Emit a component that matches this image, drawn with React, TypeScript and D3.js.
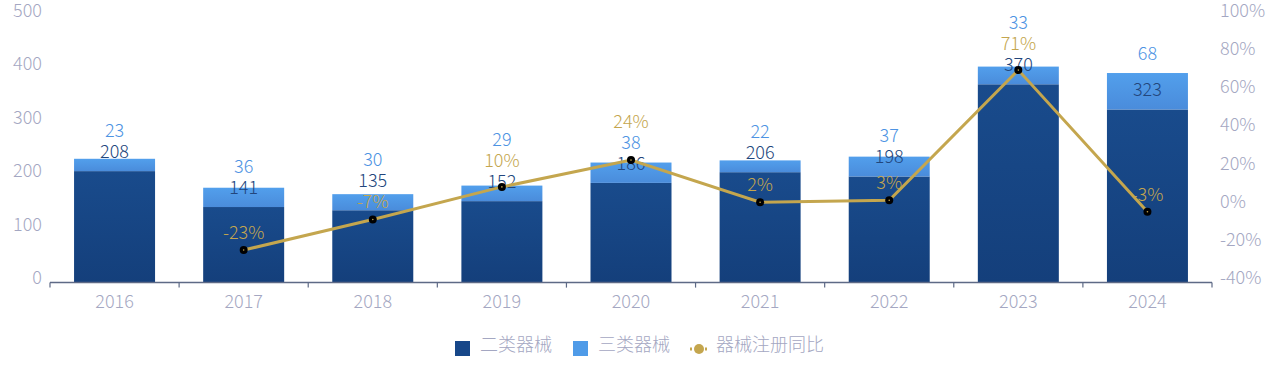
import React from "react";
import * as d3 from "d3";

const years = ["2016", "2017", "2018", "2019", "2020", "2021", "2022", "2023", "2024"];
const classII = [208, 141, 135, 152, 186, 206, 198, 370, 323];
const classIII = [23, 36, 30, 29, 38, 22, 37, 33, 68];
const yoy: (number | null)[] = [null, -23, -7, 10, 24, 2, 3, 71, -3];
const leftTicks = [0, 100, 200, 300, 400, 500];
const rightTicks = [-40, -20, 0, 20, 40, 60, 80, 100];
const legendNames = ["二类器械", "三类器械", "器械注册同比"];

const W = 1280;
const H = 382;
const FONT = "'Noto Sans CJK SC', 'Noto Sans', sans-serif";
const C_DARK = "#174789";
const C_LIGHT = "#4f9be8";
const C_LINE = "#c4a64e";
const C_AXIS_TXT = "#a4a7c2";
const C_DARK_TXT = "#22467c";
const C_LIGHT_TXT = "#4d93e3";

export default function App() {
  const left = 50, right = 1212, top = 14.6, bottom = 282.6;
  const x = d3.scaleBand<string>().domain(years).range([left, right]).paddingInner(0).paddingOuter(0);
  const bw = 81;
  const yL = d3.scaleLinear().domain([0, 500]).range([bottom, top]);
  const yR = d3.scaleLinear().domain([-40, 100]).range([bottom, top]);

  const pts = years
    .map((yr, i) => ({ yr, v: yoy[i] }))
    .filter((d) => d.v !== null) as { yr: string; v: number }[];
  const line = d3
    .line<{ yr: string; v: number }>()
    .x((d) => (x(d.yr) as number) + x.bandwidth() / 2)
    .y((d) => yR(d.v));

  // label layout with simple upward overlap push
  const labels: { x: number; y: number; text: string; color: string }[] = [];
  years.forEach((yr, i) => {
    const cx = (x(yr) as number) + x.bandwidth() / 2;
    const arr: { y: number; text: string; color: string }[] = [
      { y: yL(classII[i]) - 18, text: String(classII[i]), color: C_DARK_TXT },
      { y: yL(classII[i] + classIII[i]) - 18, text: String(classIII[i]), color: C_LIGHT_TXT },
    ];
    if (yoy[i] !== null) arr.push({ y: yR(yoy[i] as number) - 16, text: `${yoy[i]}%`, color: C_LINE });
    arr.sort((a, b) => b.y - a.y);
    for (let k = 1; k < arr.length; k++) arr[k].y = Math.min(arr[k].y, arr[k - 1].y - 21);
    arr.forEach((a) => labels.push({ x: cx, ...a }));
  });

  const boundaries = years.map((yr) => x(yr) as number).concat([right]);

  return (
    <svg width={W} height={H} style={{ position: "absolute", left: 0, top: 0, fontFamily: FONT, fontWeight: 300 }}>
      <defs>
        <linearGradient id="gDark" x1="0" y1="0" x2="0" y2="1">
          <stop offset="0" stopColor="#194b8c" />
          <stop offset="1" stopColor="#143f7b" />
        </linearGradient>
        <linearGradient id="gLight" x1="0" y1="0" x2="0" y2="1">
          <stop offset="0" stopColor="#529fec" />
          <stop offset="1" stopColor="#4a8cdb" />
        </linearGradient>
      </defs>
      <rect width={W} height={H} fill="#fff" />
      {leftTicks.map((t) => (
        <text key={"l" + t} x={42} y={yL(t) - 3} textAnchor="end" dominantBaseline="middle" fontSize={18} fill={C_AXIS_TXT}>
          {t}
        </text>
      ))}
      {rightTicks.map((t) => (
        <text key={"r" + t} x={1220} y={yR(t) - 3} textAnchor="start" dominantBaseline="middle" fontSize={18} fill={C_AXIS_TXT}>
          {t}%
        </text>
      ))}
      {years.map((yr, i) => {
        const bx = (x(yr) as number) + (x.bandwidth() - bw) / 2;
        return (
          <g key={yr}>
            <rect x={bx} y={yL(classII[i])} width={bw} height={yL(0) - yL(classII[i])} fill="url(#gDark)" />
            <rect
              x={bx}
              y={yL(classII[i] + classIII[i])}
              width={bw}
              height={yL(classII[i]) - yL(classII[i] + classIII[i])}
              fill="url(#gLight)"
            />
          </g>
        );
      })}
      <line x1={left} x2={right} y1={bottom} y2={bottom} stroke="#5e6a86" strokeWidth={1.5} />
      {boundaries.map((bx, i) => (
        <line key={"t" + i} x1={bx} x2={bx} y1={bottom} y2={bottom + 5} stroke="#5e6a86" strokeWidth={1.2} />
      ))}
      {years.map((yr) => (
        <text key={"x" + yr} x={(x(yr) as number) + x.bandwidth() / 2} y={303} textAnchor="middle" dominantBaseline="middle" fontSize={18} fill={C_AXIS_TXT}>
          {yr}
        </text>
      ))}
      {labels.map((l, i) => (
        <text key={"lab" + i} x={l.x} y={l.y} textAnchor="middle" dominantBaseline="middle" fontSize={18} fill={l.color}>
          {l.text}
        </text>
      ))}
      <path d={line(pts) || ""} fill="none" stroke={C_LINE} strokeWidth={3} />
      {pts.map((p) => (
        <g key={"p" + p.yr}>
          <circle cx={(x(p.yr) as number) + x.bandwidth() / 2} cy={yR(p.v)} r={4} fill="#000" />
          <circle cx={(x(p.yr) as number) + x.bandwidth() / 2} cy={yR(p.v)} r={0.8} fill={C_LINE} />
        </g>
      ))}
      {/* legend */}
      <rect x={455} y={341} width={15} height={15} fill={C_DARK} />
      <text x={480} y={346} dominantBaseline="middle" fontSize={18} fill={C_AXIS_TXT}>{legendNames[0]}</text>
      <rect x={573} y={341} width={15} height={15} fill={C_LIGHT} />
      <text x={598} y={346} dominantBaseline="middle" fontSize={18} fill={C_AXIS_TXT}>{legendNames[1]}</text>
      <line x1={690} x2={708} y1={349} y2={349} stroke={C_LINE} strokeWidth={3} strokeDasharray="2 3" />
      <circle cx={699} cy={349} r={5} fill={C_LINE} />
      <text x={716} y={346} dominantBaseline="middle" fontSize={18} fill={C_AXIS_TXT}>{legendNames[2]}</text>
    </svg>
  );
}
